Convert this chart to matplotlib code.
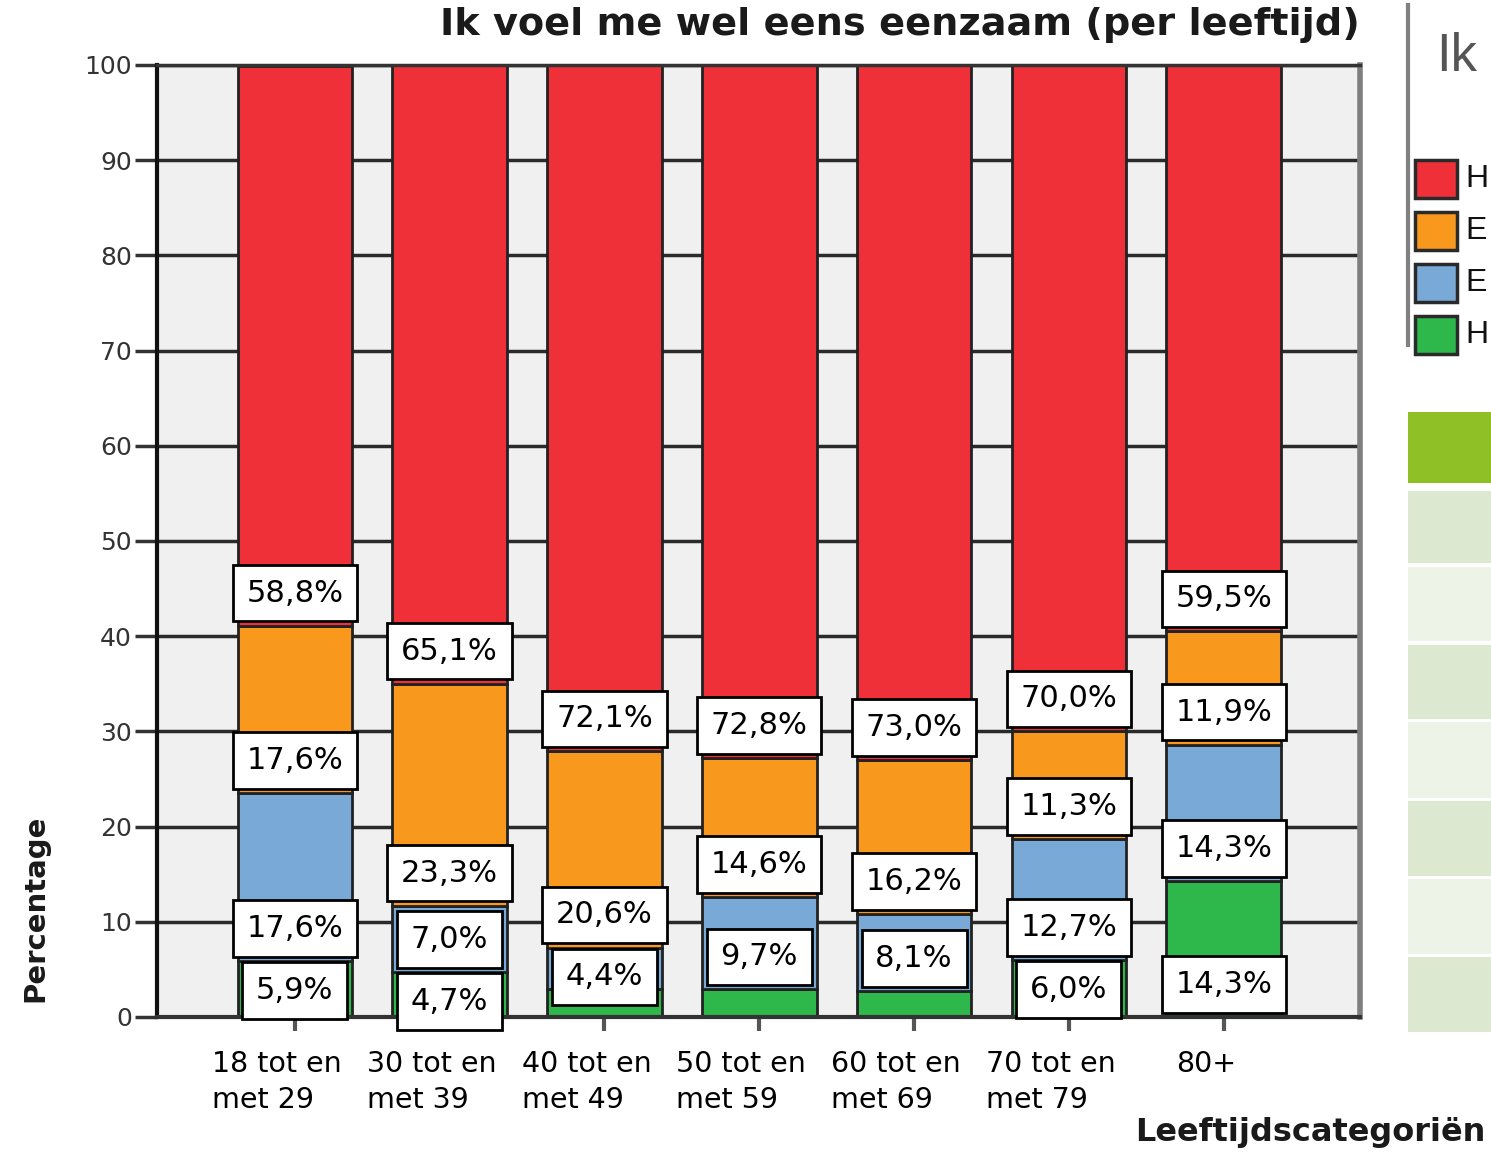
"""Ik voel me wel eens eenzaam (per leeftijd) - stacked percentage bars."""

import matplotlib
matplotlib.use('Agg')
import matplotlib.pyplot as plt
from matplotlib.patches import Rectangle
from matplotlib.transforms import ScaledTranslation

# --- Data (percent per age group, bottom to top) ---
categories = ['18 tot en\nmet 29', '30 tot en\nmet 39', '40 tot en\nmet 49',
              '50 tot en\nmet 59', '60 tot en\nmet 69', '70 tot en\nmet 79', '80+']
green = [5.9, 4.7, 2.9, 2.9, 2.7, 6.0, 14.3]
blue = [17.6, 7.0, 4.4, 9.7, 8.1, 12.7, 14.3]
orange = [17.6, 23.3, 20.6, 14.6, 16.2, 11.3, 11.9]
red = [58.8, 65.1, 72.1, 72.8, 73.0, 70.0, 59.5]
yticks = [0, 10, 20, 30, 40, 50, 60, 70, 80, 90, 100]

series = [green, blue, orange, red]
colors = ['#2eb84b', '#79a9d7', '#f8981d', '#f03039']
legend_letters = ['H', 'E', 'E', 'H']
MIN_LABEL = 3.0  # smaller segments get no data label (as in the source)

W, H = 1491, 1152
fig = plt.figure(figsize=(W / 100, H / 100), dpi=100)
ax = fig.add_axes([157 / W, 1 - 1017 / H, (1360 - 157) / W, (1017 - 65) / H])
ax.set_facecolor('#f0f0f0')

x = list(range(len(categories)))
bottom = [0.0] * len(categories)
labels = {i: [] for i in x}  # (segment bottom, value) per bar
for vals, col in zip(series, colors):
    ax.bar(x, vals, bottom=bottom, width=0.74, color=col, edgecolor='#222222',
           linewidth=2, zorder=2)
    for i, (v, b) in enumerate(zip(vals, bottom)):
        if v >= MIN_LABEL:
            labels[i].append((b, v))
    bottom = [b + v for b, v in zip(bottom, vals)]

# label boxes sit on the segment bottom, pushed down when they would collide
units_per_px = 100 / 952
box_lift = 4.3 * units_per_px
box_h = 56 * units_per_px
gap = 6 * units_per_px
for i, items in labels.items():
    limit = None
    for b, v in sorted(items, reverse=True):
        anchor = b
        if limit is not None and anchor + box_lift + box_h > limit - gap:
            anchor = limit - gap - box_h - box_lift
        limit = anchor + box_lift
        txt = f"{v:.1f}%".replace('.', ',')
        ax.annotate(txt, xy=(i, anchor), xytext=(0, 13), textcoords='offset points',
                    ha='center', va='bottom', fontsize=22, zorder=5,
                    annotation_clip=False,
                    bbox=dict(boxstyle='square,pad=0.45', fc='white', ec='black', lw=2))

ax.set_xlim(-0.89, 6.88)
ax.set_ylim(0, 100)
ax.set_yticks(yticks)
ax.tick_params(axis='y', length=16, width=2.5, color='#333333', labelsize=18,
               labelcolor='#333333', pad=2)
ax.yaxis.grid(True, color='#2a2a2a', linewidth=2.5)
ax.set_axisbelow(True)

ax.set_xticks(x)
ax.set_xticklabels(categories, fontsize=20.5, linespacing=1.35, multialignment='left')
ax.tick_params(axis='x', length=10, width=3, color='#555555', pad=14)
shift = ScaledTranslation(-18 / 100, 0, fig.dpi_scale_trans)
for lab in ax.get_xticklabels():
    lab.set_transform(lab.get_transform() + shift)

ax.spines['left'].set_color('#111111')
ax.spines['left'].set_linewidth(3)
ax.spines['top'].set_color('#333333')
ax.spines['top'].set_linewidth(2.5)
ax.spines['right'].set_color('#7f7f7f')
ax.spines['right'].set_linewidth(4)
ax.spines['bottom'].set_color('#333333')
ax.spines['bottom'].set_linewidth(3)

# titles
fig.text(1360 / W, 1 - 25 / H, 'Ik voel me wel eens eenzaam (per leeftijd)',
         ha='right', va='center', fontsize=27.5, fontweight='bold', color='#1a1a1a')
fig.text(35 / W, 1 - 908 / H, 'Percentage', rotation=90, ha='center', va='center',
         fontsize=21, fontweight='bold', color='#1a1a1a')
fig.text(1485 / W, 1 - 1133 / H, 'Leeftijdscategoriën', ha='right', va='center',
         fontsize=23, fontweight='bold', color='#1a1a1a')

# --- cropped legend panel on the right ---
fig.add_artist(plt.Line2D([1408 / W, 1408 / W], [1 - 5 / H, 1 - 345 / H],
                          color='#808080', linewidth=3))
fig.text(1436 / W, 1 - 57 / H, 'Ik', ha='left', va='center', fontsize=38,
         family='Liberation Sans', color='#555555')
for k, (col, letter) in enumerate(zip(reversed(colors), legend_letters)):
    top = 160 + k * 52
    fig.add_artist(Rectangle((1415 / W, 1 - (top + 38) / H), 42 / W, 38 / H,
                             facecolor=col, edgecolor='#2a2a2a', linewidth=2.5,
                             transform=fig.transFigure))
    fig.text(1465 / W, 1 - (top + 19) / H, letter, ha='left', va='center',
             fontsize=23, family='Liberation Sans', color='#111111')

fig.add_artist(Rectangle((1408 / W, 1 - 483 / H), 83 / W, 71 / H,
                         facecolor='#8fc126', edgecolor='none', transform=fig.transFigure))
row_tops = [491, 567, 645, 722, 801, 879, 957]
row_bots = [563, 641, 719, 798, 876, 954, 1032]
for k, (t, b) in enumerate(zip(row_tops, row_bots)):
    fc = '#dce8cf' if k % 2 == 0 else '#edf3e7'
    fig.add_artist(Rectangle((1408 / W, 1 - b / H), 83 / W, (b - t) / H,
                             facecolor=fc, edgecolor='none', transform=fig.transFigure))

fig.savefig('out.png', dpi=100)
